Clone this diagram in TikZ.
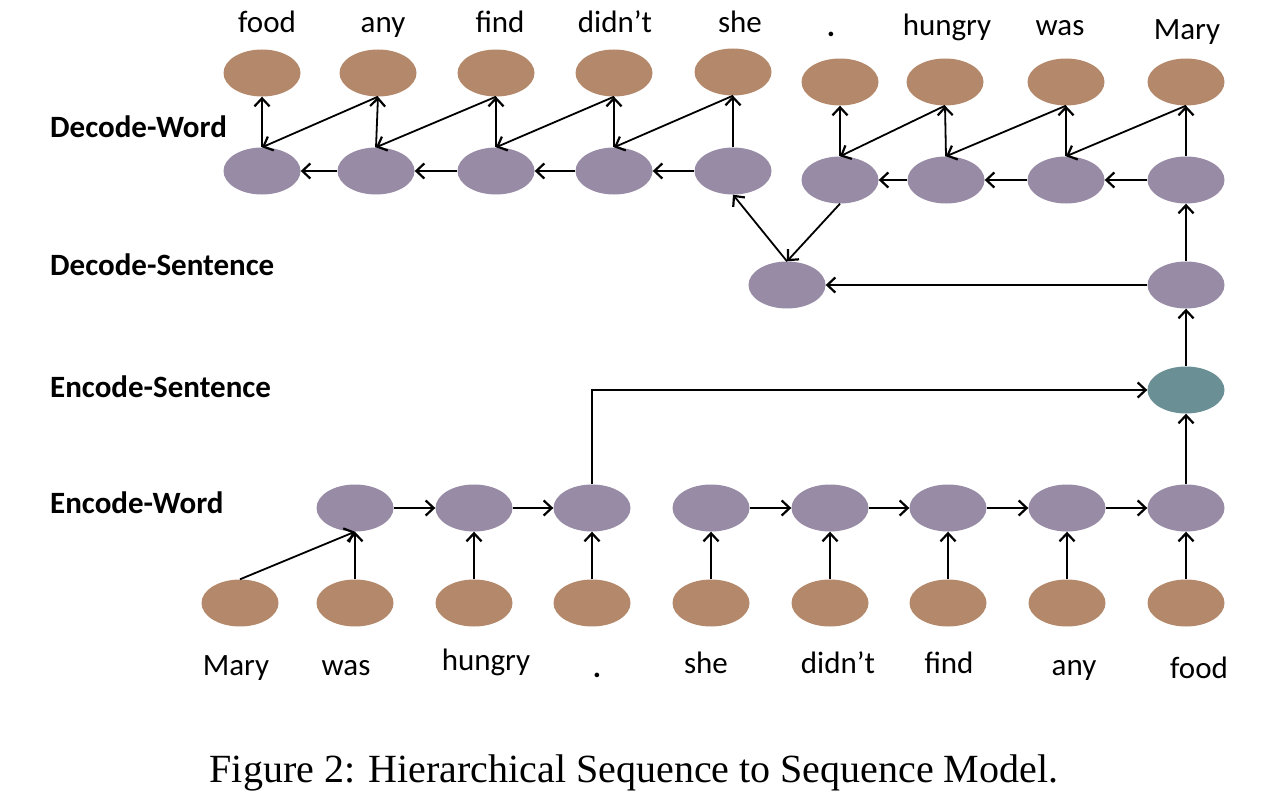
\documentclass[tikz,border=0pt]{standalone}
\usepackage{fontspec}
\setmainfont{Carlito}
\newfontfamily\capfont{Liberation Serif}
\usetikzlibrary{arrows.meta,shapes.geometric}
\definecolor{wbrown}{HTML}{B4886A}
\definecolor{wpurple}{HTML}{978BA6}
\definecolor{wteal}{HTML}{6A8F95}
\tikzset{
  word/.style={ellipse, fill=wbrown, minimum width=77pt, minimum height=47pt, inner sep=0pt},
  hid/.style={ellipse, fill=wpurple, minimum width=77pt, minimum height=47pt, inner sep=0pt},
  sent/.style={ellipse, fill=wteal, minimum width=77pt, minimum height=47pt, inner sep=0pt},
  lab/.style={font=\fontsize{31}{37}\selectfont, anchor=base, inner sep=0pt},
  rowlab/.style={font=\bfseries\fontsize{31}{37}\selectfont, anchor=base west, inner sep=0pt},
  arr/.style={-{Straight Barb[length=8pt,width=15pt,line width=2.2pt]}, line width=1.8pt},
}
\begin{document}
\begin{tikzpicture}[x=1pt,y=-1pt]
\useasboundingbox (0,0) rectangle (1274,800);
% row labels
\node[rowlab] (rl1) at (50,137) {Decode-Word};
\node[rowlab] (rl2) at (50,275) {Decode-Sentence};
\node[rowlab] (rl3) at (50,397) {Encode-Sentence};
\node[rowlab] (rl4) at (50,513) {Encode-Word};
% decoder outputs
\node[word] (do1) at (262,73) {};
\node[word] (do2) at (378,73) {};
\node[word] (do3) at (496,73) {};
\node[word] (do4) at (614,73) {};
\node[word] (do5) at (733,72) {};
\node[word] (do6) at (840,82) {};
\node[word] (do7) at (945,82) {};
\node[word] (do8) at (1066,82) {};
\node[word] (do9) at (1186,82) {};
\node[lab] (dl1) at (267,33) {food};
\node[lab] (dl2) at (383,33) {any};
\node[lab] (dl3) at (500,33) {find};
\node[lab] (dl4) at (615,33) {didn’t};
\node[lab] (dl5) at (740,33) {she};
\node[lab] (dl6) at (831,37) {\textbf{.}};
\node[lab] (dl7) at (947,36) {hungry};
\node[lab] (dl8) at (1060,36) {was};
\node[lab] (dl9) at (1187,40) {Mary};
% decoder hidden
\node[hid] (dh1) at (262,171) {};
\node[hid] (dh2) at (376,171) {};
\node[hid] (dh3) at (496,171) {};
\node[hid] (dh4) at (614,171) {};
\node[hid] (dh5) at (733,171) {};
\node[hid] (dh6) at (840,180) {};
\node[hid] (dh7) at (946,180) {};
\node[hid] (dh8) at (1066,180) {};
\node[hid] (dh9) at (1186,180) {};
% sentence level
\node[hid] (ds1) at (787,285) {};
\node[hid] (ds2) at (1186,285) {};
\node[sent] (es) at (1186,390) {};
% encoder hidden
\node[hid] (eh2) at (355,508) {};
\node[hid] (eh3) at (474,508) {};
\node[hid] (eh4) at (592,508) {};
\node[hid] (eh5) at (711,508) {};
\node[hid] (eh6) at (830,508) {};
\node[hid] (eh7) at (948,508) {};
\node[hid] (eh8) at (1067,508) {};
\node[hid] (eh9) at (1186,508) {};
% encoder inputs
\node[word] (ei1) at (240,603) {};
\node[word] (ei2) at (355,603) {};
\node[word] (ei3) at (474,603) {};
\node[word] (ei4) at (592,603) {};
\node[word] (ei5) at (711,603) {};
\node[word] (ei6) at (830,603) {};
\node[word] (ei7) at (948,603) {};
\node[word] (ei8) at (1067,603) {};
\node[word] (ei9) at (1186,603) {};
\node[lab] (el1) at (236,675) {Mary};
\node[lab] (el2) at (346,675) {was};
\node[lab] (el3) at (486,670) {hungry};
\node[lab] (el4) at (597,677) {\textbf{.}};
\node[lab] (el5) at (706,673) {she};
\node[lab] (el6) at (838,673) {didn’t};
\node[lab] (el7) at (949,673) {find};
\node[lab] (el8) at (1074,675) {any};
\node[lab] (el9) at (1199,678) {food};
% decoder arrows
\foreach \i in {1,...,9} \draw[arr] (dh\i.north) -- (do\i.south);
\foreach \i/\j in {2/1,3/2,4/3,5/4,7/6,8/7,9/8} {
  \draw[arr] (do\i.south) -- (dh\j.north);
  \draw[arr] (dh\i.west) -- (dh\j.east);
}
\draw[arr] (ds2.west) -- (ds1.east);
\draw[arr] (ds1.north) -- (dh5.south);
\draw[arr] (dh6.south) -- (ds1.north);
\draw[arr] (ds2.north) -- (dh9.south);
\draw[arr] (es.north) -- (ds2.south);
% encoder arrows
\foreach \i in {2,...,9} \draw[arr] (ei\i.north) -- (eh\i.south);
\draw[arr] (ei1.north) -- (eh2.south);
\foreach \i/\j in {2/3,3/4,5/6,6/7,7/8,8/9} \draw[arr] (eh\i.east) -- (eh\j.west);
\draw[arr] (eh4.north) |- (es.west);
\draw[arr] (eh9.north) -- (es.south);
% caption
\node[font=\capfont\fontsize{40}{46}\selectfont, anchor=base, inner sep=0pt] (cap) at (634,782) {Figure 2: Hierarchical Sequence to Sequence Model.};
\end{tikzpicture}
\end{document}
